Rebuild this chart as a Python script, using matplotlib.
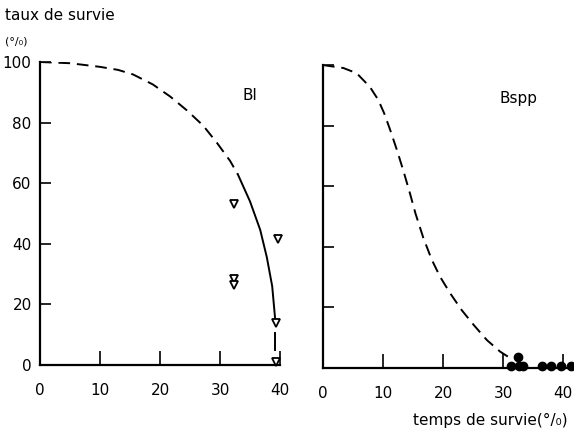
import numpy as np
import matplotlib.pyplot as plt

# Bl panel: dashed part and solid part of the fitted curve
bl_dash_x = [0, 5, 10, 13, 15.5, 18.8, 21.7, 24.5, 27.2, 29.5, 31.7, 33]
bl_dash_y = [100, 99.6, 98.4, 97.4, 95.9, 92.6, 88.6, 84, 79, 73.3, 67.3, 62.8]
bl_solid_x = [33, 35, 36.7, 37.8, 38.7, 39.2]
bl_solid_y = [62.8, 54, 44.6, 35.6, 26, 15]
bl_tail_x = [39.2, 39.2]
bl_tail_y = [10.5, 5]
bl_pts_x = [32.3, 32.4, 32.4, 39.7, 39.3, 39.3]
bl_pts_y = [53, 28.5, 26.5, 41.5, 14, 1]

# Bspp panel
bs_curve_x = [0, 0.6, 3.4, 5.6, 7.8, 9.2, 10.2, 11.2, 12.3, 13.4, 14.5, 15.4,
              16.7, 18.1, 19.5, 21.2, 23.1, 25.1, 27.3, 29.5, 31.7]
bs_curve_y = [100, 99.8, 99, 97.3, 92.8, 88.5, 84, 78.5, 72, 65, 57.5, 51,
              43, 35.8, 30.1, 24.6, 19.1, 14.2, 9.2, 5.4, 2.6]
bs_pts_x = [31.3, 32.5, 32.7, 33.3, 36.5, 38, 39.7, 41.3]
bs_pts_y = [0.7, 3.6, 0.7, 0.7, 0.7, 0.7, 0.7, 0.7]

xticks = [0, 10, 20, 30, 40]
yticks = [0, 20, 40, 60, 80, 100]

plt.rcParams['font.family'] = ['DejaVu Sans']
fig = plt.figure(figsize=(5.74, 4.32), dpi=100)
ax1 = fig.add_axes([40 / 574, 67 / 432, 240 / 574, 303 / 432])
ax2 = fig.add_axes([323 / 574, 64 / 432, 251 / 574, 303 / 432])

dash = (0, (6, 3.5))
lw = 1.4
for ax in (ax1, ax2):
    for s in ('top', 'right'):
        ax.spines[s].set_visible(False)
    for s in ('left', 'bottom'):
        ax.spines[s].set_linewidth(1.6)
    ax.set_ylim(0, 100)
    ax.set_xticks(xticks)
    ax.set_yticks(yticks)
    ax.tick_params(direction='in', length=8, width=1.2, labelsize=11, pad=6)
    ax.tick_params(axis='x', length=10, pad=13)

ax1.set_xlim(0, 40)
ax1.plot(bl_dash_x, bl_dash_y, color='black', lw=lw, linestyle=dash)
ax1.plot(bl_solid_x, bl_solid_y, color='black', lw=lw)
ax1.plot(bl_tail_x, bl_tail_y, color='black', lw=lw)
ax1.plot(bl_pts_x, bl_pts_y, linestyle='none', marker='v', markersize=6,
         markerfacecolor='white', markeredgecolor='black', markeredgewidth=1.3,
         clip_on=False, zorder=5)
ax1.text(35, 89, 'Bl', fontsize=11, ha='center', va='center')

ax2.set_xlim(0, 41.8)
ax2.set_yticklabels([])
ax2.plot(bs_curve_x, bs_curve_y, color='black', lw=lw, linestyle=dash)
ax2.plot(bs_pts_x, bs_pts_y, linestyle='none', marker='o', markersize=6,
         color='black', clip_on=False, zorder=5)
ax2.text(32.5, 89, 'Bspp', fontsize=11, ha='center', va='center')

fig.text(5 / 574, 1 - 15 / 432, 'taux de survie', fontsize=11, va='center', ha='left')
fig.text(5 / 574, 1 - 42 / 432, '(°/₀)', fontsize=8, va='center', ha='left')
fig.text(568 / 574, 1 - 420 / 432, 'temps de survie(°/₀)', fontsize=11,
         va='center', ha='right')

fig.savefig('out.png', dpi=100)
